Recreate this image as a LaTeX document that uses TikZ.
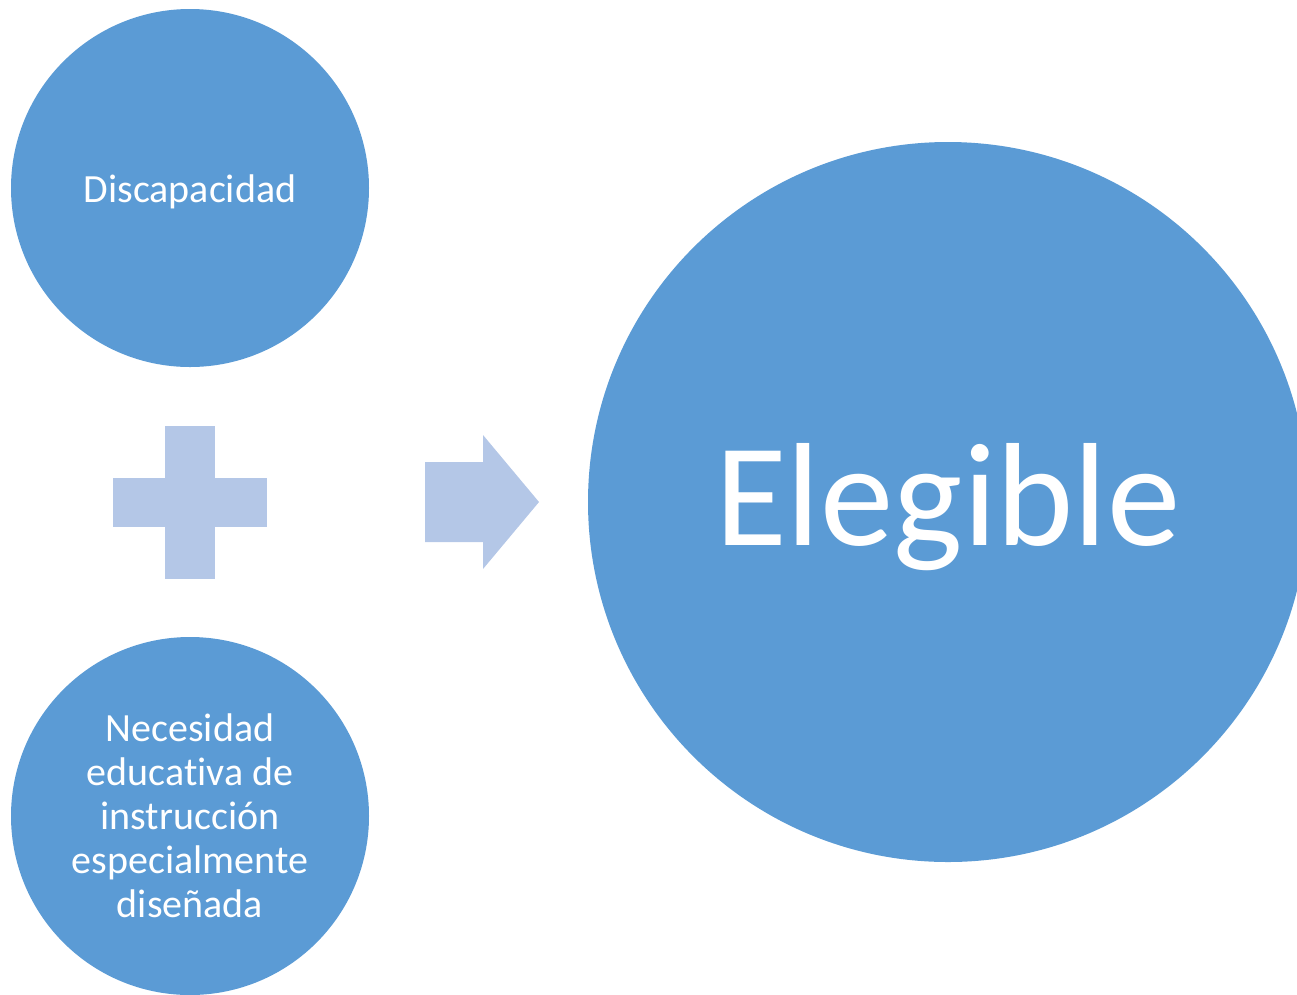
\documentclass[tikz,border=0pt]{standalone}
\usepackage{fontspec}
\setmainfont{Carlito}[Ligatures={NoCommon,NoContextual}]
\definecolor{circblue}{RGB}{91,155,213}
\definecolor{lightblue}{RGB}{180,199,231}

\begin{document}
\begin{tikzpicture}[x=1pt,y=-1pt,
    bubble/.style={circle,fill=circblue,inner sep=0pt},
    bubbletext/.style={text=white,inner sep=0pt,align=center}]
  \useasboundingbox (0,0) rectangle (1297,994);
  \clip (0,0) rectangle (1297,994);

  % circles
  \node[bubble,minimum size=358pt] (disc) at (190,188) {};
  \node[bubble,minimum size=358pt] (need) at (190,816) {};
  \node[bubble,minimum size=720pt] (elig) at (948,502) {};

  % texts
  \node[bubbletext,anchor=base,font=\fontsize{40}{44}\selectfont]
    (disctext) at ([yshift=-14.5pt]disc.center) {Discapacidad};
  \node[bubbletext,font=\fontsize{40}{44}\selectfont]
    (needtext) at (need.center) {Necesidad\\educativa de\\instrucción\\especialmente\\diseñada};
  \node[bubbletext,anchor=base,font=\fontsize{147}{160}\selectfont]
    (eligtext) at ([yshift=-43pt]elig.center) {Elegible};

  % plus
  \fill[lightblue] (165,426) rectangle (215,579);
  \fill[lightblue] (113,478) rectangle (267,527);

  % arrow
  \fill[lightblue] (425,462) -- (483,462) -- (483,435) -- (539,502)
    -- (483,569) -- (483,542) -- (425,542) -- cycle;
\end{tikzpicture}
\end{document}
